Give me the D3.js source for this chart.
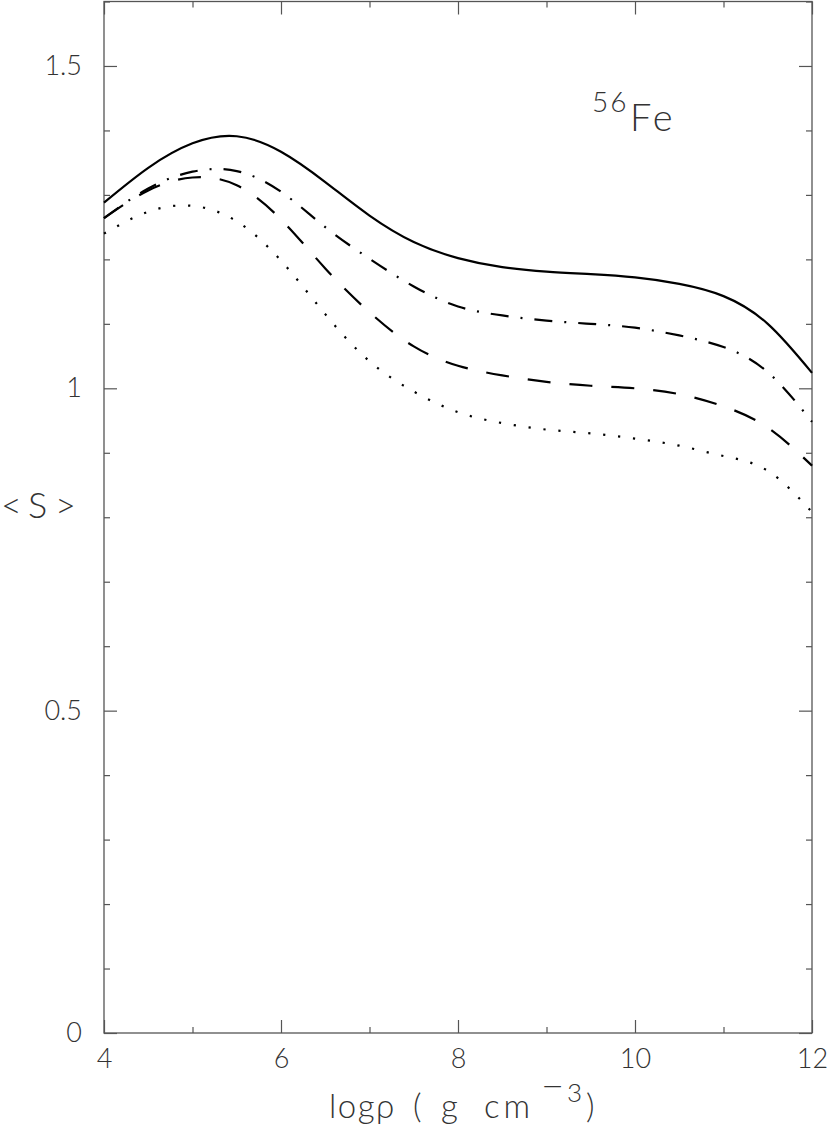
<!DOCTYPE html>
<html>
<head>
<meta charset="utf-8">
<script src="https://cdn.jsdelivr.net/npm/d3@7"></script>
<style>
  body { margin: 0; background: #fff; }
  text { font-family: Lato, "DejaVu Sans", sans-serif; font-weight: 300; fill: #333; }
</style>
</head>
<body>
<div class="chart"></div>
<script>
// log rho grid
var logRho = [4, 4.5, 5, 5.5, 6, 6.5, 7, 7.5, 8, 8.5, 9, 9.5, 10, 10.5, 11, 11.5, 12];

// <S> for the four curves
var sSolid   = [1.288, 1.342, 1.380, 1.391, 1.367, 1.320, 1.268, 1.227, 1.202, 1.188, 1.181, 1.177, 1.172, 1.162, 1.143, 1.100, 1.024];
var sDashDot = [1.264, 1.310, 1.336, 1.337, 1.305, 1.250, 1.201, 1.158, 1.127, 1.113, 1.105, 1.100, 1.094, 1.082, 1.064, 1.025, 0.948];
var sDashed  = [1.264, 1.307, 1.327, 1.315, 1.262, 1.186, 1.118, 1.065, 1.035, 1.020, 1.010, 1.004, 1.000, 0.991, 0.972, 0.939, 0.880];
var sDotted  = [1.240, 1.274, 1.283, 1.259, 1.198, 1.115, 1.042, 0.995, 0.963, 0.946, 0.936, 0.930, 0.922, 0.911, 0.895, 0.872, 0.808];

var xMajor = [4, 6, 8, 10, 12];
var xMinor = [5, 7, 9, 11];
var yMajor = [0, 0.5, 1, 1.5];
var yMinor = [0.1, 0.2, 0.3, 0.4, 0.6, 0.7, 0.8, 0.9, 1.1, 1.2, 1.3, 1.4, 1.6];

var svgWidth = 830;
var svgHeight = 1129;

var svg = d3.select(".chart")
  .append("svg")
  .attr("width", svgWidth)
  .attr("height", svgHeight);

var x = d3.scaleLinear().domain([4, 12]).range([104, 812]);
var y = d3.scaleLinear().domain([0, 1.6]).range([1033, 1.5]);

// frame
svg.append("rect")
  .attr("x", x(4))
  .attr("y", y(1.6))
  .attr("width", x(12) - x(4))
  .attr("height", y(0) - y(1.6))
  .attr("fill", "none")
  .attr("stroke", "#555")
  .attr("stroke-width", 1.3);

function styleAxis(g) {
  g.select(".domain").remove();
  g.selectAll("line").attr("stroke", "#555").attr("stroke-width", 1.2);
  g.selectAll("text").attr("font-size", 27).attr("fill", "#444")
    .attr("font-family", "Lato, 'DejaVu Sans', sans-serif");
}

// left / right
svg.append("g").attr("transform", `translate(${x(4)},0)`)
  .call(d3.axisLeft(y).tickValues(yMajor).tickSize(-13).tickPadding(22).tickFormat(d3.format("")))
  .call(styleAxis);
svg.append("g").attr("transform", `translate(${x(4)},0)`)
  .call(d3.axisLeft(y).tickValues(yMinor).tickSize(-6).tickFormat(""))
  .call(styleAxis);
svg.append("g").attr("transform", `translate(${x(12)},0)`)
  .call(d3.axisRight(y).tickValues(yMajor).tickSize(-13).tickFormat(""))
  .call(styleAxis);
svg.append("g").attr("transform", `translate(${x(12)},0)`)
  .call(d3.axisRight(y).tickValues(yMinor).tickSize(-6).tickFormat(""))
  .call(styleAxis);

// bottom / top
svg.append("g").attr("transform", `translate(0,${y(0)})`)
  .call(d3.axisBottom(x).tickValues(xMajor).tickSize(-13).tickPadding(16))
  .call(styleAxis);
svg.append("g").attr("transform", `translate(0,${y(0)})`)
  .call(d3.axisBottom(x).tickValues(xMinor).tickSize(-6).tickFormat(""))
  .call(styleAxis);
svg.append("g").attr("transform", `translate(0,${y(1.6)})`)
  .call(d3.axisTop(x).tickValues(xMajor).tickSize(-13).tickFormat(""))
  .call(styleAxis);
svg.append("g").attr("transform", `translate(0,${y(1.6)})`)
  .call(d3.axisTop(x).tickValues(xMinor).tickSize(-6).tickFormat(""))
  .call(styleAxis);

// curves
var series = [
  { vals: sSolid,   dash: null },
  { vals: sDashDot, dash: "18,12,2,12" },
  { vals: sDashed,  dash: "23,19" },
  { vals: sDotted,  dash: "2.2,12.8" }
];

var line = d3.line()
  .x(d => x(d[0]))
  .y(d => y(d[1]))
  .curve(d3.curveNatural);

svg.append("g").selectAll("path")
  .data(series)
  .enter()
  .append("path")
  .attr("d", s => line(logRho.map((v, i) => [v, s.vals[i]])))
  .attr("fill", "none")
  .attr("stroke", "#000")
  .attr("stroke-width", 2.2)
  .attr("stroke-dasharray", s => s.dash);

// axis labels
var yt = svg.append("text")
  .attr("y", 518)
  .attr("font-size", 36);
yt.append("tspan").attr("x", 1).text("<");
yt.append("tspan").attr("x", 28).text("S");
yt.append("tspan").attr("x", 55).text(">");

var xt = svg.append("text")
  .attr("y", 1118)
  .attr("font-size", 33);
xt.append("tspan").attr("x", 329).attr("letter-spacing", 1.5).text("logρ");
xt.append("tspan").attr("x", 413).text("(");
xt.append("tspan").attr("x", 441).text("g");
xt.append("tspan").attr("x", 484).attr("letter-spacing", 4).text("cm");
xt.append("tspan").attr("x", 541).attr("dy", -18).attr("font-size", 40).text("−");
xt.append("tspan").attr("x", 567).attr("dy", 2).attr("font-size", 26).text("3");
xt.append("tspan").attr("x", 586).attr("dy", 16).text(")");

// nucleus label
var lab = svg.append("text")
  .attr("y", 131);
lab.append("tspan").attr("x", 592).attr("dy", -19).attr("font-size", 28).attr("letter-spacing", 2).text("56");
lab.append("tspan").attr("x", 630).attr("dy", 19).attr("font-size", 38).attr("letter-spacing", 3).text("Fe");
</script>
</body>
</html>
